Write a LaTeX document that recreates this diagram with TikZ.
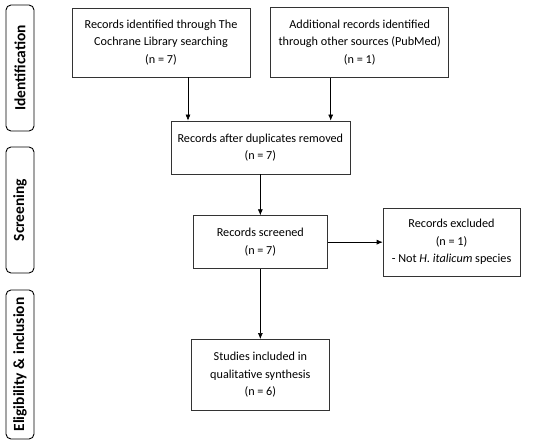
\documentclass[tikz,border=0pt]{standalone}
\usepackage{fontspec}
\setmainfont{Carlito}
\usetikzlibrary{arrows.meta,positioning,calc}

\begin{document}
\begin{tikzpicture}[
    x=1pt, y=-1pt,
    node distance=20pt,
    flowbox/.style={draw=black!80, line width=0.7pt, align=center, inner sep=2pt, font=\fontsize{12.2}{17.5}\selectfont},
    phasetab/.style={draw, line width=0.9pt, rounded corners=5pt, minimum height=28pt, rotate=90, font=\fontsize{15.5}{18}\selectfont\bfseries},
    link/.style={-{Latex[length=6pt,width=5pt]}, line width=0.6pt}
]
\useasboundingbox (0,0) rectangle (550,445);
% phases
\node[phasetab, minimum width=126pt] (ident) at (20,68) {Identification};
\node[phasetab, minimum width=126pt] (screen) at (20,210) {Screening};
\node[phasetab, minimum width=149pt] (elig) at (20,364.5) {Eligibility \& inclusion};
% flow
\node[flowbox, minimum width=178pt, minimum height=69pt] (cochrane) at (161,42.5) {Records identified through The\\Cochrane Library searching\\(n = 7)};
\node[flowbox, minimum width=178pt, minimum height=70pt, right=20pt of cochrane] (pubmed) {Additional records identified\\through other sources (PubMed)\\(n = 1)};
\coordinate (mid) at ($(cochrane.south)!0.5!(pubmed.south)$);
\node[flowbox, minimum width=179pt, minimum height=53pt, below=43pt of mid] (dups) {Records after duplicates removed\\(n = 7)};
\node[flowbox, minimum width=134pt, minimum height=53pt, below=41pt of dups] (screened) {Records screened\\(n = 7)};
\node[flowbox, minimum width=137pt, minimum height=68pt, right=55pt of screened] (excluded) {Records excluded\\(n = 1)\\- Not \textit{H. italicum} species};
\node[flowbox, minimum width=138pt, minimum height=71pt, below=70pt of screened] (included) {Studies included in\\qualitative synthesis\\(n = 6)};
\draw[link] ([xshift=27pt]cochrane.south) -- ([xshift=27pt]cochrane.south |- dups.north);
\draw[link] ([xshift=-29pt]pubmed.south) -- ([xshift=-29pt]pubmed.south |- dups.north);
\draw[link] (dups) -- (screened);
\draw[link] (screened) -- (excluded);
\draw[link] (screened) -- (included);
\end{tikzpicture}
\end{document}
